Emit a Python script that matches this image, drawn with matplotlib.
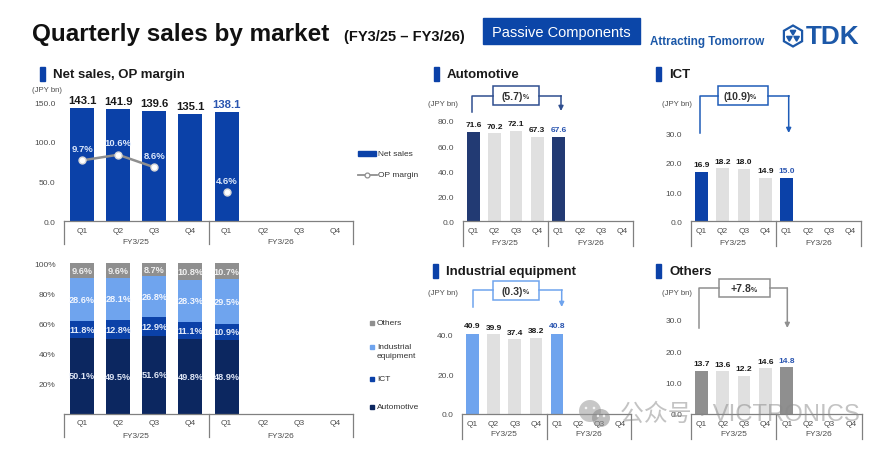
import matplotlib
matplotlib.use('Agg')
import matplotlib.pyplot as plt
from matplotlib.patches import Rectangle, RegularPolygon, Circle

plt.rcParams['font.family'] = ['Liberation Sans', 'Noto Sans CJK SC', 'DejaVu Sans']

W, H = 890, 452

# Data
quarters = ['Q1', 'Q2', 'Q3', 'Q4', 'Q1', 'Q2', 'Q3', 'Q4']
years = ['FY3/25', 'FY3/26']

net_sales = [143.1, 141.9, 139.6, 135.1, 138.1]
op_margin = [9.7, 10.6, 8.6, float('nan'), 4.6]

share_auto = [50.1, 49.5, 51.6, 49.8, 48.9]
share_ict = [11.8, 12.8, 12.9, 11.1, 10.9]
share_ind = [28.6, 28.1, 26.8, 28.3, 29.5]
share_oth = [9.6, 9.6, 8.7, 10.8, 10.7]

automotive = [71.6, 70.2, 72.1, 67.3, 67.6]
ict = [16.9, 18.2, 18.0, 14.9, 15.0]
industrial = [40.9, 39.9, 37.4, 38.2, 40.8]
others = [13.7, 13.6, 12.2, 14.6, 14.8]

auto_ticks = [0, 20, 40, 60, 80]
ict_ticks = [0, 10, 20, 30]
ind_ticks = [0, 20, 40]
oth_ticks = [0, 10, 20, 30]

BLUE = '#0b41a8'
NAVY = '#0c2760'
AUTO = '#223a73'
LIGHT = '#6fa4ee'
GREY = '#8f8f8f'
PALE = '#e0e0e0'
TXT = '#1a1a1a'
TICK = '#4d4d4d'
AXIS = '#808080'
LATEST = '#2a55b0'

fig = plt.figure(figsize=(W / 100, H / 100), dpi=100)


# axes placed by pixel box of the source picture
def make_axes(left, right, top, base, ymax, yticks, fmt='{:.1f}', size=6):
    ax = fig.add_axes([left / W, 1 - base / H, (right - left) / W, (base - top) / H])
    ax.set_xlim(-0.5, 7.5)
    ax.set_ylim(0, ymax)
    ax.patch.set_alpha(0)
    for s in ['top', 'left', 'right']:
        ax.spines[s].set_visible(False)
    ax.spines['bottom'].set_color(AXIS)
    ax.spines['bottom'].set_linewidth(0.9)
    ax.set_xticks(range(8))
    ax.set_xticklabels(quarters)
    ax.set_yticks(yticks)
    ax.set_yticklabels([fmt.format(t) for t in yticks])
    ax.tick_params(axis='x', length=0, labelsize=size, labelcolor=TICK, pad=4)
    ax.tick_params(axis='y', length=0, labelsize=size, labelcolor=TICK, pad=6)
    return ax


def small_panel(box, values, ymax, yticks, colour):
    ax = make_axes(*box, ymax, yticks)
    x = range(len(values))
    colours = [colour, PALE, PALE, PALE, colour]
    ax.bar(x, values, width=0.6, color=colours)
    for i, v in enumerate(values):
        ax.annotate(f'{v:.1f}', (i, v), xytext=(0, 2.5), textcoords='offset points',
                    ha='center', va='bottom', fontsize=6, fontweight='bold',
                    color=LATEST if i == 4 else TXT, annotation_clip=False)
    return ax


# Net sales and OP margin
ax1 = make_axes(64, 353, 103.3, 222.3, 150, [0, 50, 100, 150], size=6)
ax1.bar(range(5), net_sales, width=0.665, color=BLUE)
for i, v in enumerate(net_sales):
    ax1.annotate(f'{v:.1f}', (i, v), xytext=(0, 2), textcoords='offset points',
                 ha='center', va='bottom', fontsize=8.2, fontweight='bold',
                 color=LATEST if i == 4 else TXT, annotation_clip=False)
ax1b = ax1.twinx()
ax1b.set_ylim(0, 18.95)
ax1b.axis('off')
ax1b.plot(range(5), op_margin, color=GREY, lw=1.8, marker='o', ms=5,
          mfc='white', mec='#d8d8d8', mew=1)
for i, v in enumerate(op_margin):
    if v == v:
        ax1b.annotate(f'{v}%', (i, v), xytext=(0, 8.6), textcoords='offset points',
                      ha='center', va='center', fontsize=6.8, fontweight='bold', color='#dce8fb')

# Share of sales
ax2 = make_axes(64, 353, 264.3, 414.5, 100, [20, 40, 60, 80, 100], fmt='{:.0f}%', size=6)
bottom = [0] * 5
for vals, col, shade in [(share_auto, NAVY, '#dfe6f5'), (share_ict, BLUE, '#e4ecfb'),
                         (share_ind, LIGHT, '#f2f6fe'), (share_oth, GREY, '#f0f0f0')]:
    ax2.bar(range(5), vals, width=0.665, bottom=bottom, color=col)
    for i, v in enumerate(vals):
        ax2.text(i, bottom[i] + v / 2, f'{v}%', ha='center', va='center',
                 fontsize=6.6, fontweight='bold', color=shade)
    bottom = [b + v for b, v in zip(bottom, vals)]

# Segment panels
box_auto = (462.7, 633, 122, 222.3)
box_ict = (690.7, 861, 134.7, 222.3)
box_ind = (462, 631, 335, 415)
box_oth = (690.7, 861.5, 320.7, 415)
small_panel(box_auto, automotive, 80, auto_ticks, AUTO)
small_panel(box_ict, ict, 30, ict_ticks, BLUE)
small_panel(box_ind, industrial, 40, ind_ticks, LIGHT)
small_panel(box_oth, others, 30, oth_ticks, GREY)

# Overlay in picture pixels for the slide furniture
ov = fig.add_axes([0, 0, 1, 1], zorder=5)
ov.set_xlim(0, W)
ov.set_ylim(H, 0)
ov.axis('off')
ov.patch.set_alpha(0)

# Year brackets under the axes
for left, right, base, low, fy in [(64, 353, 222.3, 245, 243), (64, 353, 414.5, 438, 436.5),
                                   (462.7, 633, 222.3, 246.5, 244), (690.7, 861, 222.3, 246.5, 244),
                                   (462, 631, 415, 440, 435), (690.7, 861.5, 415, 440, 435)]:
    mid = (left + right) / 2
    for xv in (left, mid, right):
        ov.plot([xv, xv], [base, low], color=AXIS, lw=0.9)
    ov.text((left + mid) / 2, fy, years[0], ha='center', va='center', fontsize=6, color=TICK)
    ov.text((mid + right) / 2, fy, years[1], ha='center', va='center', fontsize=6, color=TICK)

# Header
ov.text(32, 34, 'Quarterly sales by market', fontsize=17.5, fontweight='bold', color='#111111', va='center')
ov.text(344, 37.5, '(FY3/25 – FY3/26)', fontsize=10.5, fontweight='bold', color='#111111', va='center')
ov.add_patch(Rectangle((483, 19.3), 157, 26, color='#0b46a8'))
ov.text(561.5, 33.5, 'Passive Components', fontsize=10.5, color='white', ha='center', va='center')
ov.text(650, 41.7, 'Attracting Tomorrow', fontsize=8.4, fontweight='bold', color='#1c58a8', va='center')
ov.add_patch(RegularPolygon((793, 37), 6, radius=10.5, fc='none', ec='#1c58a8', lw=1.6))
for dx, dy in [(0, -4), (-3.6, 2), (3.6, 2)]:
    ov.add_patch(RegularPolygon((793 + dx, 37 + dy), 3, radius=3.2, color='#1c58a8'))
ov.text(806, 37, 'TDK', fontsize=18.8, fontweight='bold', color='#1c58a8', va='center')

# Section titles
for mx, ty, title in [(40, 74.5, 'Net sales, OP margin'), (434, 74.5, 'Automotive'), (656, 74.5, 'ICT'),
                      (433, 272, 'Industrial equipment'), (656, 272, 'Others')]:
    ov.add_patch(Rectangle((mx, ty - 7), 5, 14, color=BLUE))
    ov.text(mx + 13, ty + 0.5, title, fontsize=9.5, fontweight='bold', color='#1a1a1a', va='center')

# Unit labels
for ux, uy in [(47, 90.7), (442.7, 105), (677, 105), (443, 293.7), (677, 293.7)]:
    ov.text(ux, uy, '(JPY bn)', fontsize=5.6, color=TICK, ha='center', va='center')

# Growth callouts
callouts = [
    ('(5.7)', '#2f4e8f', 471.7, 113, 96.7, 493, 539, 87.3, 105.7, 561, 112),
    ('(10.9)', '#1f5cb8', 700, 134, 96.7, 718.3, 768.3, 87.3, 105.7, 788.7, 134),
    ('(0.3)', LIGHT, 472.7, 308, 291, 493.3, 539.3, 282.3, 301, 561.7, 308),
    ('+7.8', GREY, 699, 329, 289, 718.7, 770, 280, 298.3, 787.3, 329),
]
for label, col, lx, ly, topy, bx0, bx1, by0, by1, rx, ry in callouts:
    ov.plot([lx, lx, bx0], [ly, topy, topy], color=col, lw=1.1)
    ov.add_patch(Rectangle((bx0, by0), bx1 - bx0, by1 - by0, fc='white', ec=col, lw=1.1))
    ov.annotate('', xy=(rx, ry), xytext=(rx, topy),
                arrowprops=dict(arrowstyle='-|>', color=col, lw=1.1, mutation_scale=7, shrinkA=0, shrinkB=0))
    ov.plot([bx1, rx], [topy, topy], color=col, lw=1.1)
    cx = (bx0 + bx1) / 2 + 7
    ov.text(cx, (by0 + by1) / 2, label, fontsize=7.6, fontweight='bold', color='#333333', ha='right', va='center')
    ov.text(cx, (by0 + by1) / 2 + 1, '%', fontsize=5, fontweight='bold', color='#333333', ha='left', va='center')

# Legends
ov.add_patch(Rectangle((358, 152), 18, 5, color=BLUE))
ov.text(378, 154.5, 'Net sales', fontsize=6, color='#333333', va='center')
ov.plot([358, 377], [176, 176], color=GREY, lw=1.3)
ov.plot([367], [176], marker='o', ms=3.5, mfc='white', mec=GREY, mew=0.9)
ov.text(378, 176, 'OP margin', fontsize=6, color='#333333', va='center')

for ly, col, name in [(323.7, GREY, 'Others'), (352, LIGHT, 'Industrial\nequipment'),
                      (380, BLUE, 'ICT'), (408, NAVY, 'Automotive')]:
    sq = ly - 4.5 if '\n' in name else ly
    ov.add_patch(Rectangle((370, sq - 2), 4, 4, color=col))
    ov.text(377, ly, name, fontsize=6, color='#333333', va='center', linespacing=1.25)

# Watermark
ov.add_patch(Circle((590, 412), 11, color='#9a9a9a', alpha=0.55, lw=0))
ov.add_patch(Circle((601, 419), 9, color='#8a8a8a', alpha=0.55, lw=0))
for dx, dy in [(586, 409), (594, 409), (598, 417), (604, 417)]:
    ov.add_patch(Circle((dx, dy), 1.3, color='white', alpha=0.8, lw=0))
ov.text(620, 415, '公众号 · VICTRONICS', fontsize=17.2, color='#888888', alpha=0.5, va='center')

fig.savefig('out.png', dpi=100)
plt.close(fig)
